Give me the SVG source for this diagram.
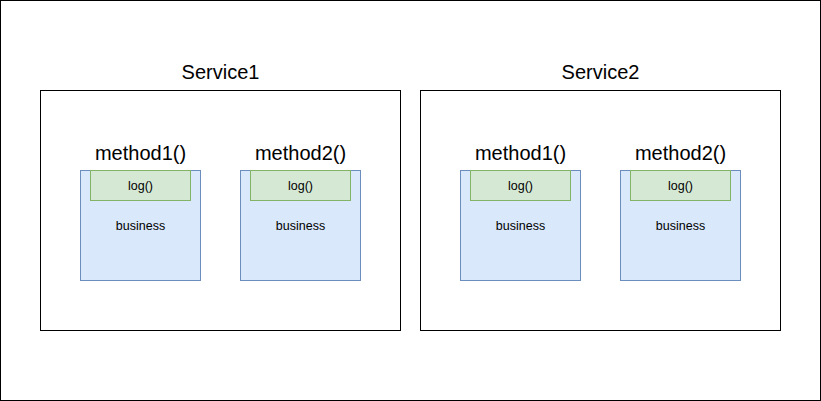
<svg xmlns="http://www.w3.org/2000/svg" width="821" height="401" viewBox="0 0 821 401">
<style>
.frame{fill:#fff;stroke:#000;stroke-width:1}
.svc{fill:#fff;stroke:#000;stroke-width:1}
.m{fill:#dae8fc;stroke:#6c8ebf;stroke-width:1}
.log{fill:#d5e8d4;stroke:#82b366;stroke-width:1}
text{font-family:"Liberation Sans",Arial,sans-serif;fill:#000;text-anchor:middle}
.t1{font-size:20px}
.t2{font-size:20px}
.t3{font-size:12.5px}
</style>
<rect class="frame" x="0.5" y="0.5" width="820" height="400"/>
<g id="service1">
<rect class="svc" x="40.5" y="90.5" width="360" height="240"/>
<text class="t1" x="220.5" y="79">Service1</text>
</g>
<g id="s1m1">
<text class="t2" x="140.5" y="160">method1()</text>
<rect class="m" x="80.5" y="170.5" width="120" height="110"/>
<text class="t3" x="140.5" y="230">business</text>
</g>
<g id="s1m1log">
<rect class="log" x="90.5" y="170.5" width="100" height="30"/>
<text class="t3" x="140.5" y="190">log()</text>
</g>
<g id="s1m2">
<text class="t2" x="300.5" y="160">method2()</text>
<rect class="m" x="240.5" y="170.5" width="120" height="110"/>
<text class="t3" x="300.5" y="230">business</text>
</g>
<g id="s1m2log">
<rect class="log" x="250.5" y="170.5" width="100" height="30"/>
<text class="t3" x="300.5" y="190">log()</text>
</g>
<g id="service2">
<rect class="svc" x="420.5" y="90.5" width="360" height="240"/>
<text class="t1" x="600.5" y="79">Service2</text>
</g>
<g id="s2m1">
<text class="t2" x="520.5" y="160">method1()</text>
<rect class="m" x="460.5" y="170.5" width="120" height="110"/>
<text class="t3" x="520.5" y="230">business</text>
</g>
<g id="s2m1log">
<rect class="log" x="470.5" y="170.5" width="100" height="30"/>
<text class="t3" x="520.5" y="190">log()</text>
</g>
<g id="s2m2">
<text class="t2" x="680.5" y="160">method2()</text>
<rect class="m" x="620.5" y="170.5" width="120" height="110"/>
<text class="t3" x="680.5" y="230">business</text>
</g>
<g id="s2m2log">
<rect class="log" x="630.5" y="170.5" width="100" height="30"/>
<text class="t3" x="680.5" y="190">log()</text>
</g>
<g id="connectors"></g>
</svg>
